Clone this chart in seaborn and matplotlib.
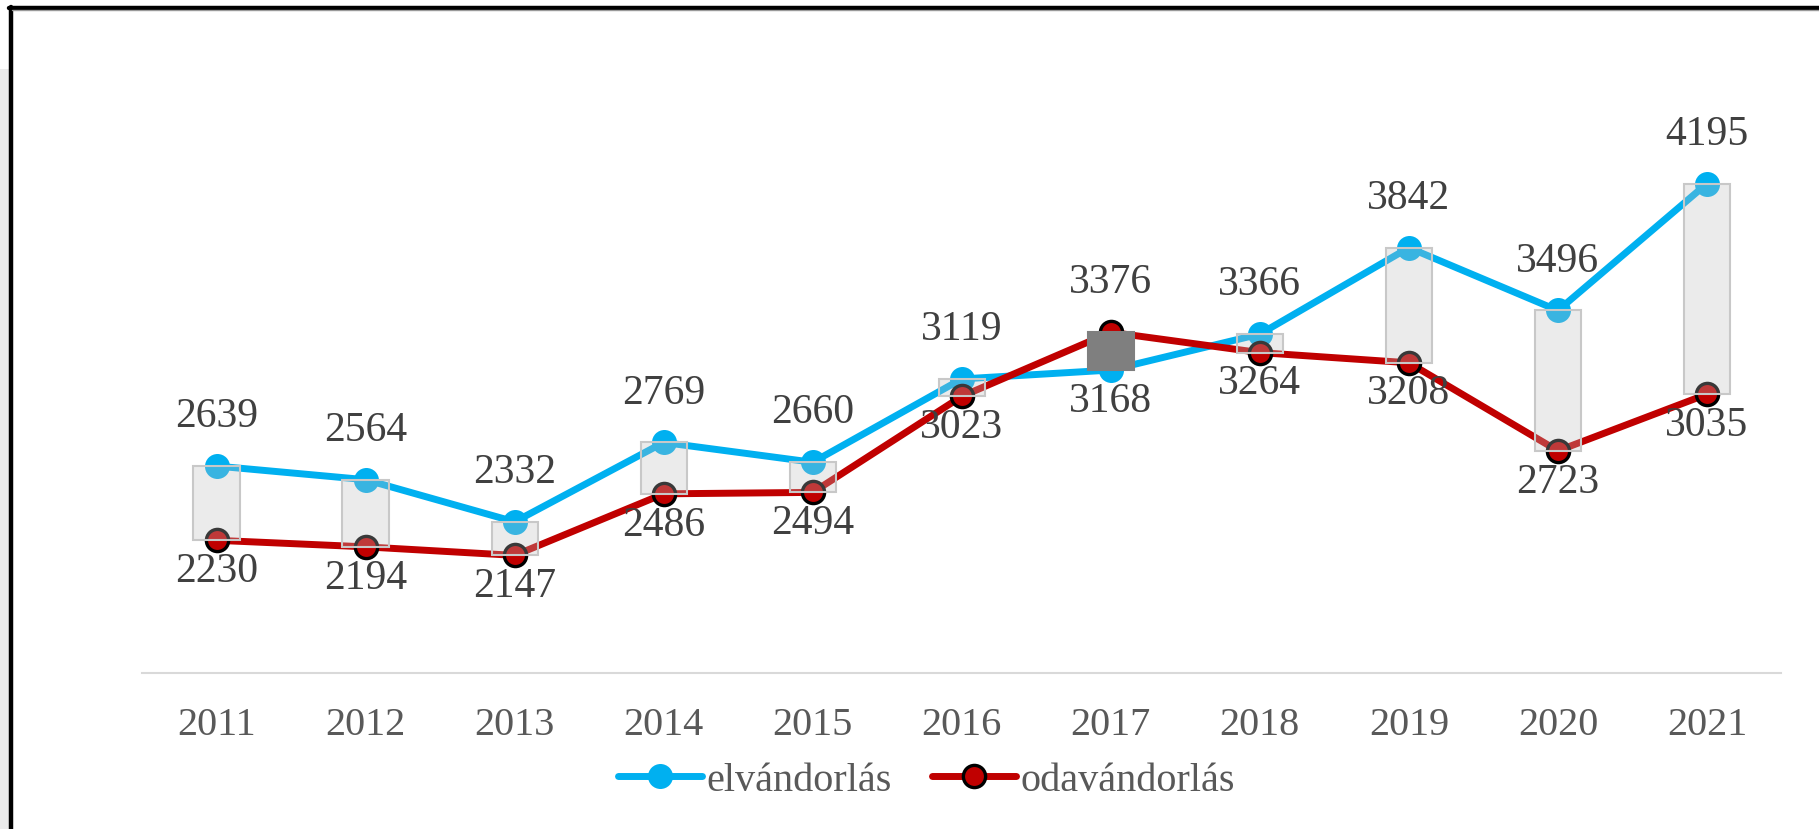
import numpy as np
import pandas as pd
import matplotlib
matplotlib.use('Agg')
import matplotlib.pyplot as plt
from matplotlib.lines import Line2D
from matplotlib.patches import Rectangle
import seaborn as sns

# Data
years = ['2011', '2012', '2013', '2014', '2015', '2016',
         '2017', '2018', '2019', '2020', '2021']
elvandorlas = [2639, 2564, 2332, 2769, 2660, 3119, 3168, 3366, 3842, 3496, 4195]
odavandorlas = [2230, 2194, 2147, 2486, 2494, 3023, 3376, 3264, 3208, 2723, 3035]
series_names = ['elvándorlás', 'odavándorlás']

df = pd.DataFrame({'year': years,
                   series_names[0]: elvandorlas,
                   series_names[1]: odavandorlas})

sns.set_style("white")
plt.rcParams['font.family'] = ['Liberation Serif', 'DejaVu Serif']

W, H = 1819, 829
fig = plt.figure(figsize=(18.195, 8.299), dpi=100)
ax = fig.add_axes([142 / W, 1 - 673 / H, (1781 - 142) / W, (673 - 129) / H])

blue = '#00B0F0'
red = '#C00000'

# lines
sns.lineplot(data=df, x='year', y=series_names[0], ax=ax, color=blue, lw=5,
             marker='o', ms=18, mec=blue, mew=0, label=series_names[0],
             sort=False, zorder=2)
sns.lineplot(data=df, x='year', y=series_names[1], ax=ax, color=red, lw=5,
             marker='o', ms=16, mec='black', mew=2.4, label=series_names[1],
             sort=False, zorder=2)

# up/down bars
hi = np.maximum(elvandorlas, odavandorlas)
lo = np.minimum(elvandorlas, odavandorlas)
for yr, e, o, h, l in zip(years, elvandorlas, odavandorlas, hi, lo):
    if e >= o:
        ax.bar(yr, h - l, bottom=l, width=0.31, facecolor=(0.75, 0.75, 0.75, 0.3),
               edgecolor='#c8c8c8', linewidth=1.5, zorder=3)
    else:
        ax.bar(yr, h - l, bottom=l, width=0.31, facecolor='#7f7f7f',
               edgecolor='#7f7f7f', linewidth=1.5, zorder=3)

# data labels: larger value above, smaller below
for yr, e, o in zip(years, elvandorlas, odavandorlas):
    for v, other in ((e, o), (o, e)):
        up = v >= other
        ax.annotate(str(v), (yr, v), xytext=(0, 36 if up else -22),
                    textcoords='offset points', ha='center', va='center',
                    fontsize=30, color='#404040', zorder=5)

ax.set_ylim(1500, 4500)
ax.set_xlim(-0.5, 10.5)
ax.set_xlabel('')
ax.set_ylabel('')
ax.set_yticks([])
ax.tick_params(axis='x', length=0, pad=24, labelsize=29, labelcolor='#595959')
for s in ['top', 'right', 'left']:
    ax.spines[s].set_visible(False)
ax.spines['bottom'].set_color('#d9d9d9')
ax.spines['bottom'].set_linewidth(1.5)

ax.get_legend().remove()
handles, labels = ax.get_legend_handles_labels()
fig.legend(handles, labels, loc='center', bbox_to_anchor=(926 / W, 1 - 781 / H),
           ncol=2, frameon=False, fontsize=29, handlelength=2.1,
           handletextpad=0.1, columnspacing=1.0, labelcolor='#595959')

# frame around the picture
fig.add_artist(Rectangle((0, 0), 9 / W, 1 - 70 / H, transform=fig.transFigure,
                         facecolor='#ebebeb', edgecolor='none'))
fig.add_artist(Line2D([10.5 / W, 10.5 / W], [0, 1 - 8 / H], transform=fig.transFigure,
                      color='black', lw=3.2))
fig.add_artist(Line2D([9 / W, 1], [1 - 8.5 / H, 1 - 8.5 / H], transform=fig.transFigure,
                      color='black', lw=3.2))
fig.add_artist(Line2D([12 / W, 1], [1 - 11 / H, 1 - 11 / H], transform=fig.transFigure,
                      color='#9a9a9a', lw=1))

plt.savefig('out.png', dpi=100)
